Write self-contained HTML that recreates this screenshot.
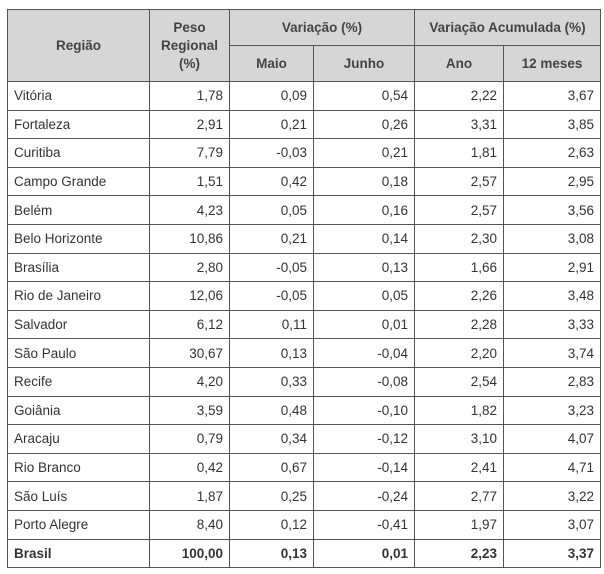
<!DOCTYPE html>
<html><head><meta charset="utf-8"><style>
body{margin:0;background:#fff;width:604px;height:574px;overflow:hidden}
table{position:absolute;left:7px;top:9px;border-collapse:collapse;font-family:"Liberation Sans",sans-serif;font-size:13.5px;color:#333;table-layout:fixed}
td,th{border:1px solid #555;padding:0 6px;white-space:nowrap}
th{background:#d6d6d6;font-weight:bold;text-align:center;line-height:18px;color:#444}
td{height:27.6px;text-align:right}
td:first-child{text-align:left}
tr.b td{font-weight:bold}
</style></head><body>
<table>
<colgroup><col style="width:142px"><col style="width:80px"><col style="width:84px"><col style="width:101px"><col style="width:89px"><col style="width:97px"></colgroup>
<tr style="height:36px"><th rowspan="2">Região</th><th rowspan="2">Peso<br>Regional<br>(%)</th><th colspan="2">Variação (%)</th><th colspan="2">Variação Acumulada (%)</th></tr>
<tr style="height:36px"><th>Maio</th><th>Junho</th><th>Ano</th><th>12 meses</th></tr>
<tr><td>Vitória</td><td>1,78</td><td>0,09</td><td>0,54</td><td>2,22</td><td>3,67</td></tr>
<tr><td>Fortaleza</td><td>2,91</td><td>0,21</td><td>0,26</td><td>3,31</td><td>3,85</td></tr>
<tr><td>Curitiba</td><td>7,79</td><td>-0,03</td><td>0,21</td><td>1,81</td><td>2,63</td></tr>
<tr><td>Campo Grande</td><td>1,51</td><td>0,42</td><td>0,18</td><td>2,57</td><td>2,95</td></tr>
<tr><td>Belém</td><td>4,23</td><td>0,05</td><td>0,16</td><td>2,57</td><td>3,56</td></tr>
<tr><td>Belo Horizonte</td><td>10,86</td><td>0,21</td><td>0,14</td><td>2,30</td><td>3,08</td></tr>
<tr><td>Brasília</td><td>2,80</td><td>-0,05</td><td>0,13</td><td>1,66</td><td>2,91</td></tr>
<tr><td>Rio de Janeiro</td><td>12,06</td><td>-0,05</td><td>0,05</td><td>2,26</td><td>3,48</td></tr>
<tr><td>Salvador</td><td>6,12</td><td>0,11</td><td>0,01</td><td>2,28</td><td>3,33</td></tr>
<tr><td>São Paulo</td><td>30,67</td><td>0,13</td><td>-0,04</td><td>2,20</td><td>3,74</td></tr>
<tr><td>Recife</td><td>4,20</td><td>0,33</td><td>-0,08</td><td>2,54</td><td>2,83</td></tr>
<tr><td>Goiânia</td><td>3,59</td><td>0,48</td><td>-0,10</td><td>1,82</td><td>3,23</td></tr>
<tr><td>Aracaju</td><td>0,79</td><td>0,34</td><td>-0,12</td><td>3,10</td><td>4,07</td></tr>
<tr><td>Rio Branco</td><td>0,42</td><td>0,67</td><td>-0,14</td><td>2,41</td><td>4,71</td></tr>
<tr><td>São Luís</td><td>1,87</td><td>0,25</td><td>-0,24</td><td>2,77</td><td>3,22</td></tr>
<tr><td>Porto Alegre</td><td>8,40</td><td>0,12</td><td>-0,41</td><td>1,97</td><td>3,07</td></tr>
<tr class="b"><td>Brasil</td><td>100,00</td><td>0,13</td><td>0,01</td><td>2,23</td><td>3,37</td></tr>
</table>
</body></html>
